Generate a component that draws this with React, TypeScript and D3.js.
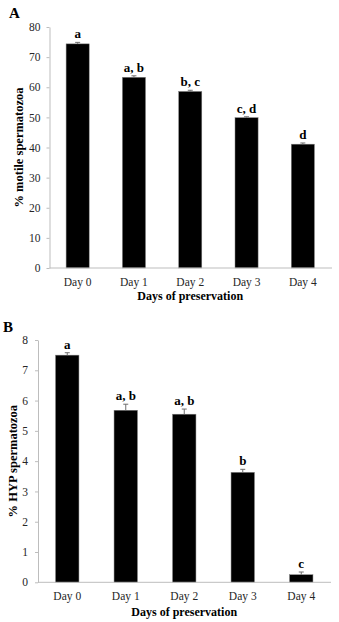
import React, { useEffect, useRef } from "react";
import * as d3 from "d3";

const days = ["Day 0", "Day 1", "Day 2", "Day 3", "Day 4"];

// panel A: motility
const motileMeans = [74.4, 63.3, 58.6, 49.9, 41.1];
const motileErrors = [0.5, 0.5, 0.4, 0.3, 0.4];
const motileLetters = ["a", "a, b", "b, c", "c, d", "d"];
const motileTicks = [0, 10, 20, 30, 40, 50, 60, 70, 80];

// panel B: HYP test
const hypMeans = [7.5, 5.68, 5.55, 3.63, 0.25];
const hypErrors = [0.08, 0.2, 0.17, 0.1, 0.09];
const hypLetters = ["a", "a, b", "a, b", "b", "c"];
const hypTicks = [0, 1, 2, 3, 4, 5, 6, 7, 8];

const FONT = "'Liberation Serif', 'Times New Roman', serif";
const AXIS_GREY = "#bdbdbd";

const drawPanel = (svg, cfg) => {
  const g = svg.append("g");

  const x = d3
    .scaleBand()
    .domain(days)
    .range([cfg.left, cfg.right])
    .paddingInner(cfg.padIn)
    .paddingOuter(cfg.padIn / 2);

  const y = d3
    .scaleLinear()
    .domain([0, d3.max(cfg.ticks)])
    .range([cfg.bottom, cfg.top]);

  const rows = days.map((d, i) => ({
    day: d,
    mean: cfg.means[i],
    err: cfg.errors[i],
    letter: cfg.letters[i],
  }));

  // y axis
  const yAxis = g
    .append("g")
    .attr("transform", `translate(${cfg.left},0)`)
    .call(
      d3
        .axisLeft(y)
        .tickValues(cfg.ticks)
        .tickSize(3)
        .tickSizeOuter(0)
        .tickPadding(cfg.yPad)
    );
  yAxis.selectAll(".domain").attr("stroke", AXIS_GREY);
  yAxis.selectAll(".tick line").attr("stroke", AXIS_GREY);
  yAxis
    .selectAll("text")
    .attr("fill", "#262626")
    .style("font-family", FONT)
    .style("font-size", "11.5px");

  // bars
  g.selectAll(".bar")
    .data(rows)
    .enter()
    .append("rect")
    .attr("x", (d) => x(d.day))
    .attr("y", (d) => y(d.mean))
    .attr("width", x.bandwidth())
    .attr("height", (d) => y(0) - y(d.mean))
    .attr("fill", "#000")
    .attr("stroke", "#7f7f7f")
    .attr("stroke-width", 0.5);

  // error bars (upper half only)
  const cx = (d) => x(d.day) + x.bandwidth() / 2;
  g.selectAll(".err")
    .data(rows)
    .enter()
    .append("line")
    .attr("x1", cx)
    .attr("x2", cx)
    .attr("y1", (d) => y(d.mean))
    .attr("y2", (d) => y(d.mean + d.err))
    .attr("stroke", "#6e6e6e")
    .attr("stroke-width", 1);
  g.selectAll(".cap")
    .data(rows)
    .enter()
    .append("line")
    .attr("x1", (d) => cx(d) - 2.5)
    .attr("x2", (d) => cx(d) + 2.5)
    .attr("y1", (d) => y(d.mean + d.err))
    .attr("y2", (d) => y(d.mean + d.err))
    .attr("stroke", "#6e6e6e")
    .attr("stroke-width", 1);

  // significance letters
  g.selectAll(".letter")
    .data(rows)
    .enter()
    .append("text")
    .attr("x", cx)
    .attr("y", (d) => y(d.mean + d.err) - 4)
    .attr("text-anchor", "middle")
    .style("font-family", FONT)
    .style("font-size", "13px")
    .style("font-weight", "bold")
    .text((d) => d.letter);

  // x axis
  const xAxis = g
    .append("g")
    .attr("transform", `translate(0,${cfg.bottom})`)
    .call(d3.axisBottom(x).tickSize(0).tickPadding(cfg.xPad));
  xAxis
    .select(".domain")
    .attr("stroke", AXIS_GREY)
    .attr("d", `M${cfg.left},0H${cfg.axisEnd}`);
  xAxis
    .selectAll("text")
    .attr("fill", "#262626")
    .style("font-family", FONT)
    .style("font-size", "11.5px");

  g.append("text")
    .attr("x", (cfg.left + cfg.right) / 2)
    .attr("y", cfg.xTitleY)
    .attr("text-anchor", "middle")
    .style("font-family", FONT)
    .style("font-size", "12px")
    .style("font-weight", "bold")
    .text("Days of preservation");

  g.append("text")
    .attr(
      "transform",
      `translate(${cfg.yTitleX},${(cfg.top + cfg.bottom) / 2}) rotate(-90)`
    )
    .attr("text-anchor", "middle")
    .style("font-family", FONT)
    .style("font-size", "12.5px")
    .style("font-weight", "bold")
    .text(cfg.yTitle);

  g.append("text")
    .attr("x", cfg.tagX)
    .attr("y", cfg.tagY)
    .style("font-family", FONT)
    .style("font-size", "15px")
    .style("font-weight", "bold")
    .text(cfg.tag);
};

const App = () => {
  const ref = useRef(null);

  useEffect(() => {
    d3.select(ref.current).selectAll("*").remove();
    const svg = d3.select(ref.current);

    drawPanel(svg, {
      tag: "A",
      tagX: 9,
      tagY: 18,
      left: 49.5,
      right: 331,
      axisEnd: 332,
      top: 27,
      bottom: 268,
      padIn: 0.59,
      ticks: motileTicks,
      means: motileMeans,
      errors: motileErrors,
      letters: motileLetters,
      yPad: 6,
      xPad: 10,
      xTitleY: 300,
      yTitleX: 23,
      yTitle: "% motile spermatozoa",
    });

    drawPanel(svg, {
      tag: "B",
      tagX: 3,
      tagY: 332,
      left: 38,
      right: 330.5,
      axisEnd: 331,
      top: 340,
      bottom: 582.3,
      padIn: 0.6,
      ticks: hypTicks,
      means: hypMeans,
      errors: hypErrors,
      letters: hypLetters,
      yPad: 7,
      xPad: 9.5,
      xTitleY: 616,
      yTitleX: 17,
      yTitle: "% HYP spermatozoa",
    });
  }, []);

  return (
    <svg
      ref={ref}
      width={339}
      height={622}
      style={{ position: "absolute", left: 0, top: 0, background: "#fff" }}
    />
  );
};

export default App;
